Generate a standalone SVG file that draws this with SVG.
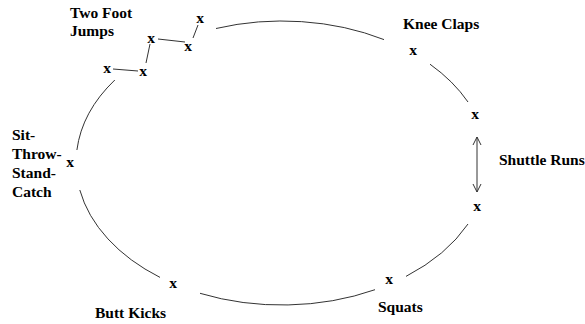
<svg xmlns="http://www.w3.org/2000/svg" width="585" height="324" viewBox="0 0 585 324">
<style>
text{font-family:"Liberation Serif","Times New Roman","DejaVu Serif",serif;font-weight:bold;font-size:15.5px;fill:#000}
.x{text-anchor:middle}
.c{fill:none;stroke:#333;stroke-width:1}
</style>
<defs>
<marker id="ah" viewBox="0 0 10 10" refX="9" refY="5" markerWidth="10" markerHeight="10" markerUnits="userSpaceOnUse" orient="auto-start-reverse">
<path d="M1,1 L9,5 L1,9" fill="none" stroke="#333" stroke-width="1"/>
</marker>
</defs>
<rect width="585" height="324" fill="#fff"/>
<g id="connectors">
<path class="c" d="M216,28.5 A206,142 0 0,1 384,39.6"/>
<path class="c" d="M430,64.2 A206,142 0 0,1 468,102"/>
<path class="c" d="M468,224 A206,142 0 0,1 406,276.4"/>
<path class="c" d="M375,289.7 A206,142 0 0,1 200,293.3"/>
<path class="c" d="M160,277.4 A206,142 0 0,1 79.8,190"/>
<path class="c" d="M76.9,150 A206,142 0 0,1 114.8,80"/>
<path class="c" d="M113,69 L138,71"/>
<path class="c" d="M146,63 L150,44"/>
<path class="c" d="M158,39 L185,42"/>
<path class="c" d="M193,38 L198,25"/>
<path class="c" d="M477,137 L477,192" marker-start="url(#ah)" marker-end="url(#ah)"/>
</g>
<g id="two-foot-jumps">
<text x="70" y="18">Two Foot</text>
<text x="70" y="36">Jumps</text>
<text class="x" x="200" y="23">x</text>
<text class="x" x="151" y="43">x</text>
<text class="x" x="188" y="51">x</text>
<text class="x" x="107" y="73">x</text>
<text class="x" x="143" y="76">x</text>
</g>
<g id="knee-claps">
<text x="403" y="29">Knee Claps</text>
<text class="x" x="413" y="55">x</text>
</g>
<g id="shuttle-runs">
<text class="x" x="475" y="119">x</text>
<text x="499" y="165">Shuttle Runs</text>
<text class="x" x="477" y="211">x</text>
</g>
<g id="squats">
<text class="x" x="389" y="284">x</text>
<text x="378" y="312">Squats</text>
</g>
<g id="butt-kicks">
<text class="x" x="173" y="288">x</text>
<text x="95" y="318">Butt Kicks</text>
</g>
<g id="sit-throw-stand-catch">
<text x="12" y="140">Sit-</text>
<text x="12" y="159">Throw-</text>
<text x="12" y="178">Stand-</text>
<text x="12" y="197">Catch</text>
<text class="x" x="70" y="167">x</text>
</g>
</svg>
